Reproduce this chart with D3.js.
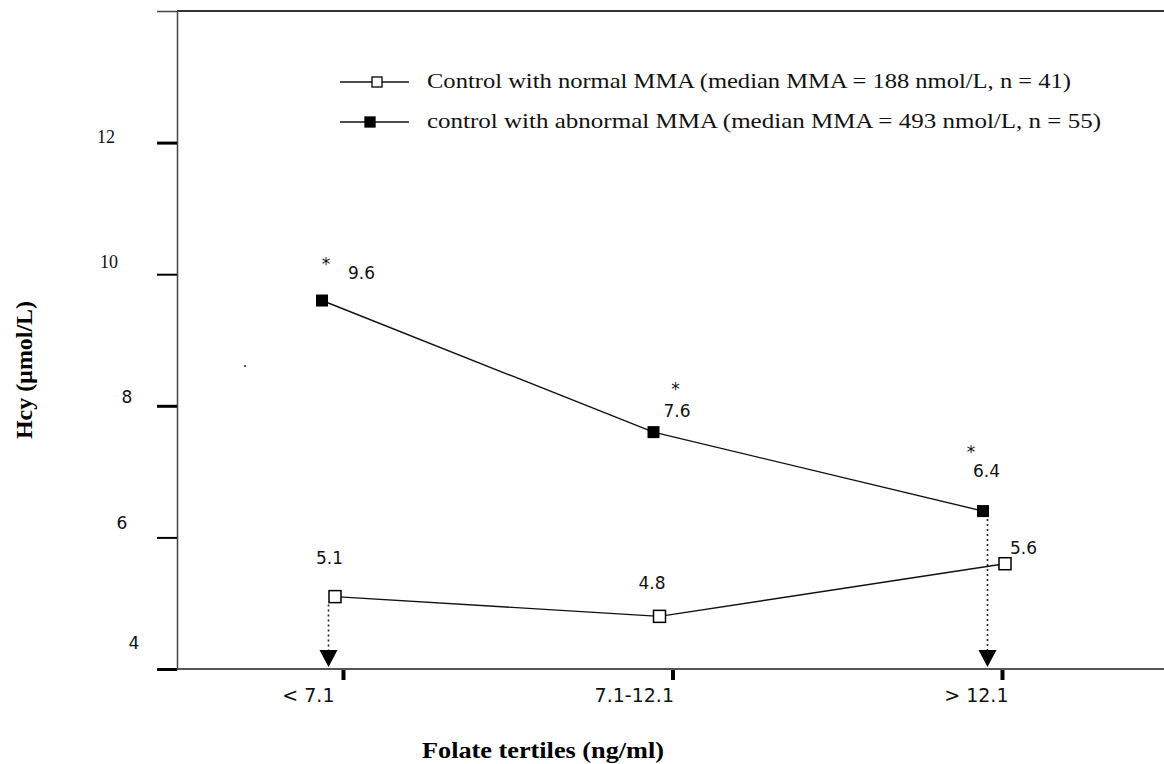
<!DOCTYPE html>
<html>
<head>
<meta charset="utf-8">
<script src="https://cdn.jsdelivr.net/npm/d3@7"></script>
<style>
  html, body { margin: 0; padding: 0; background: #fff; }
  svg { display: block; }
</style>
</head>
<body>
<script>
// Folate tertiles and mean Hcy for the two control groups
const categories = ["< 7.1", "7.1-12.1", "> 12.1"];
const normalMMA = [5.1, 4.8, 5.6];
const abnormalMMA = [9.6, 7.6, 6.4];
const abnormalSignificant = [true, true, true];
const yTicks = [4, 6, 8, 10, 12];
const legendLabels = [
  "Control with normal MMA (median MMA = 188 nmol/L, n = 41)",
  "control with abnormal MMA (median MMA = 493 nmol/L, n = 55)"
];

(function draw() {
const W = 1164, H = 764;
const svg = d3.select("body").append("svg").attr("width", W).attr("height", H);

const plotLeft = 177, plotTop = 11, plotBottom = 669, plotRight = W;
const y = d3.scaleLinear().domain([4, 14]).range([plotBottom, plotTop]);
const x = d3.scalePoint().domain(categories).range([343, 1002]);

// per-point horizontal nudges so the two series don't overlap
const openDx = [-8, -13, 3];
const filledDx = [-21, -19, -19];

const sans = "DejaVu Sans, Verdana, sans-serif";
const serif = "Liberation Serif, Times New Roman, serif";

// frame: top rule, left axis, bottom axis
svg.append("line").attr("x1", plotLeft).attr("x2", plotRight).attr("y1", plotTop).attr("y2", plotTop)
  .attr("stroke", "#333").attr("stroke-width", 2);

const yAxis = svg.append("g").attr("transform", `translate(${plotLeft},0)`)
  .call(d3.axisLeft(y).tickValues(yTicks).tickSize(20).tickFormat(d3.format("d")));
yAxis.select(".domain").attr("stroke", "#444").attr("stroke-width", 1.5);
yAxis.selectAll(".tick line").attr("stroke", "#000").attr("stroke-width", (d, i) => i % 2 === 0 ? 3 : 2);
// tick labels sit a little above their ticks, as in the printed figure
const yLabelX = [-43, -55, -50, -68, -71];
const yLabelDy = [-26, -14, -9, -12, -6];
yAxis.selectAll(".tick text")
  .attr("x", (d, i) => yLabelX[i])
  .attr("y", (d, i) => yLabelDy[i])
  .attr("text-anchor", "middle")
  .attr("fill", "#111")
  .style("font-family", d => d >= 10 ? serif : sans)
  .style("font-size", d => d >= 10 ? "18px" : "17px");

const xAxis = svg.append("g").attr("transform", `translate(0,${plotBottom})`)
  .call(d3.axisBottom(x).tickSize(11).tickSizeOuter(0));
xAxis.select(".domain").remove();
svg.append("line").attr("x1", plotLeft).attr("x2", plotRight).attr("y1", plotBottom).attr("y2", plotBottom)
  .attr("stroke", "#555").attr("stroke-width", 2);
xAxis.selectAll(".tick line").attr("stroke", "#000").attr("stroke-width", 4);
const tickLabelDx = [-9, 1, 6];
xAxis.selectAll(".tick text")
  .attr("y", 20)
  .attr("dx", (d, i) => tickLabelDx[i])
  .attr("text-anchor", "end")
  .attr("fill", "#111")
  .style("font-family", sans)
  .style("font-size", "19px");

// axis titles
svg.append("text")
  .attr("transform", `translate(32,370) rotate(-90)`)
  .attr("text-anchor", "middle")
  .attr("textLength", 138).attr("lengthAdjust", "spacingAndGlyphs")
  .style("font-family", serif).style("font-weight", "bold").style("font-size", "23px")
  .text("Hcy (\u00b5mol/L)");
svg.append("text")
  .attr("x", 422).attr("y", 758)
  .attr("textLength", 242).attr("lengthAdjust", "spacingAndGlyphs")
  .style("font-family", serif).style("font-weight", "bold").style("font-size", "24px")
  .text("Folate tertiles (ng/ml)");

// dotted guides ending in arrowheads on the folate axis
const arrowDx = -14.5;
const arrows = [
  { cat: categories[0], from: normalMMA[0] },
  { cat: categories[2], from: abnormalMMA[2] }
];
arrows.forEach(a => {
  const ax = x(a.cat) + arrowDx;
  svg.append("line")
    .attr("x1", ax).attr("x2", ax)
    .attr("y1", y(a.from) + 8).attr("y2", plotBottom - 18)
    .attr("stroke", "#222").attr("stroke-width", 1.6).attr("stroke-dasharray", "2,3");
  svg.append("path")
    .attr("d", `M${ax - 9},${plotBottom - 19} L${ax + 9},${plotBottom - 19} L${ax},${plotBottom - 2} Z`)
    .attr("fill", "#000");
});

// series lines
const line = d3.line().x(d => d.x).y(d => d.y);
const openPts = normalMMA.map((v, i) => ({ x: x(categories[i]) + openDx[i], y: y(v), v }));
const filledPts = abnormalMMA.map((v, i) => ({ x: x(categories[i]) + filledDx[i], y: y(v), v }));

svg.append("path").datum(openPts).attr("d", line)
  .attr("fill", "none").attr("stroke", "#111").attr("stroke-width", 1.4);
svg.append("path").datum(filledPts).attr("d", line)
  .attr("fill", "none").attr("stroke", "#111").attr("stroke-width", 1.4);

const sq = 12;
svg.selectAll(".open").data(openPts).enter().append("rect")
  .attr("x", d => d.x - sq / 2).attr("y", d => d.y - sq / 2)
  .attr("width", sq).attr("height", sq)
  .attr("fill", "#fff").attr("stroke", "#000").attr("stroke-width", 1.5);
svg.selectAll(".filled").data(filledPts).enter().append("rect")
  .attr("x", d => d.x - sq / 2).attr("y", d => d.y - sq / 2)
  .attr("width", sq).attr("height", sq)
  .attr("fill", "#000");

// value labels
const openLabelOff = [[-19, -33], [-21, -27], [5, -10]];
const filledLabelOff = [[26, -22], [10, -15], [-10, -34]];
const starOff = [[4, -31], [22, -37], [-12, -53]];
const fmt = d3.format(".1f");

svg.selectAll(".openLbl").data(openPts).enter().append("text")
  .attr("x", (d, i) => d.x + openLabelOff[i][0])
  .attr("y", (d, i) => d.y + openLabelOff[i][1])
  .style("font-family", sans).style("font-size", "17px").attr("fill", "#111")
  .text(d => fmt(d.v));
svg.selectAll(".filledLbl").data(filledPts).enter().append("text")
  .attr("x", (d, i) => d.x + filledLabelOff[i][0])
  .attr("y", (d, i) => d.y + filledLabelOff[i][1])
  .style("font-family", sans).style("font-size", "17px").attr("fill", "#111")
  .text(d => fmt(d.v));
svg.selectAll(".star").data(filledPts.filter((d, i) => abnormalSignificant[i])).enter().append("text")
  .attr("x", (d, i) => d.x + starOff[i][0])
  .attr("y", (d, i) => d.y + starOff[i][1])
  .attr("text-anchor", "middle")
  .style("font-family", sans).style("font-size", "17px").attr("fill", "#111")
  .text("*");

// legend
const legendRows = [
  { label: legendLabels[0], filled: false, y: 82, mx: 377, width: 644 },
  { label: legendLabels[1], filled: true, y: 122, mx: 370, width: 674 }
];
legendRows.forEach(r => {
  svg.append("line").attr("x1", 340).attr("x2", 409).attr("y1", r.y).attr("y2", r.y)
    .attr("stroke", "#111").attr("stroke-width", 1.5);
  svg.append("rect")
    .attr("x", r.mx - 5).attr("y", r.y - 5).attr("width", 10).attr("height", 10)
    .attr("fill", r.filled ? "#000" : "#fff").attr("stroke", "#000").attr("stroke-width", 1.3);
  svg.append("text")
    .attr("x", 427).attr("y", r.y + 6)
    .attr("textLength", r.width).attr("lengthAdjust", "spacingAndGlyphs")
    .style("font-family", serif).style("font-size", "21px").attr("fill", "#111")
    .text(r.label);
});

// small speck left in the plot area
svg.append("rect").attr("x", 244).attr("y", 365).attr("width", 2).attr("height", 2).attr("fill", "#555");
})();
</script>
</body>
</html>
